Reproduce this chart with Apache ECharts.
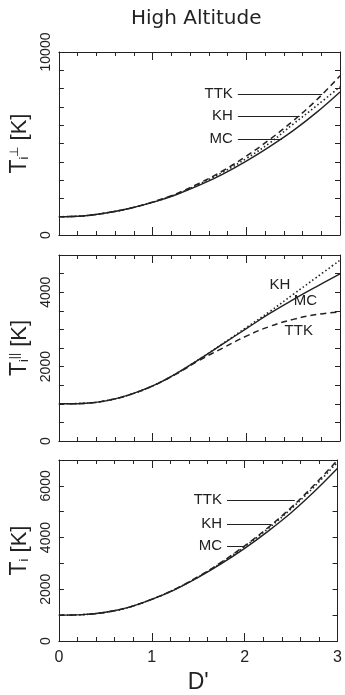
<!DOCTYPE html>
<html><head><meta charset="utf-8">
<script src="https://cdn.jsdelivr.net/npm/echarts/dist/echarts.min.js"></script>
<style>html,body{margin:0;padding:0;background:#fff}#c{width:345px;height:695px}</style>
</head><body><div id="c"></div>
<script>
// D' sample points
const dPrime = [0, 0.25, 0.5, 0.75, 1, 1.25, 1.5, 1.75, 2, 2.25, 2.5, 2.75, 3];

// Panel 1: T_i perpendicular [K]
const perpMC  = [1000, 1040, 1200, 1450, 1780, 2200, 2720, 3330, 4040, 4830, 5700, 6700, 7820];
const perpKH  = [1000, 1040, 1200, 1450, 1790, 2220, 2780, 3430, 4180, 5030, 6060, 7060, 8100];
const perpTTK = [1000, 1040, 1200, 1450, 1800, 2250, 2830, 3510, 4310, 5220, 6240, 7380, 8700];

// Panel 2: T_i parallel [K]
const parMC  = [1000, 1010, 1080, 1240, 1480, 1810, 2200, 2610, 3020, 3430, 3800, 4150, 4490];
const parKH  = [1000, 1010, 1080, 1240, 1480, 1810, 2200, 2620, 3050, 3480, 3940, 4400, 4860];
const parTTK = [1000, 1010, 1080, 1240, 1480, 1800, 2170, 2500, 2820, 3080, 3270, 3400, 3470];

// Panel 3: T_i [K]
const tMC  = [1000, 1020, 1110, 1300, 1610, 1990, 2460, 2990, 3580, 4240, 4960, 5780, 6680];
const tKH  = [1000, 1020, 1110, 1300, 1610, 2000, 2480, 3030, 3650, 4340, 5110, 5970, 6920];
const tTTK = [1000, 1020, 1110, 1300, 1615, 2005, 2490, 3050, 3680, 4380, 5160, 6040, 7000];

// y axis ranges / ticks / labelled values
const yMax = [10000, 5000, 7000];
const yStep = [1000, 500, 1000];
const yLabelEvery = [10000, 2000, 2000];
const xTickLabels = ['0', '1', '2', '3'];

const title = 'High Altitude';
const xName = "D'";

const seriesNames = ['MC', 'KH', 'TTK'];
const panelData = [
  [perpMC, perpKH, perpTTK],
  [parMC, parKH, parTTK],
  [tMC, tKH, tTTK]
];
// leader annotations: [name, lineStartD, T, lineEndD]
const leaders1 = [['TTK', 1.91, 7690, 2.81], ['KH', 1.91, 6500, 2.57], ['MC', 1.91, 5230, 2.38]];
const leaders3 = [['TTK', 1.81, 5440, 2.54], ['KH', 1.81, 4530, 2.29], ['MC', 1.81, 3680, 2.0]];
// panel 2 floating labels: [name, D', T]
const floats2 = [['KH', 2.36, 4210], ['MC', 2.63, 3760], ['TTK', 2.56, 2950]];

const grids = [
  {left: 58, right: 5, top: 52, height: 183},
  {left: 58, right: 5, top: 255, height: 186},
  {left: 58, right: 5, top: 460, height: 184}
];
const ink = '#222';
const font = 'Liberation Sans, Arial, sans-serif';

const yNames = [
  '{t|T}{s|i}{p|⊥}{k| [K]}',
  '{t|T}{s|i}{p|||}{k| [K]}',
  '{t|T}{s|i}{k| [K]}'
];
const nameRich = {
  t: {fontSize: 23, fontFamily: font, color: ink, verticalAlign: 'middle'},
  s: {fontSize: 13, fontFamily: font, color: ink, padding: [10, 0, 0, 0]},
  p: {fontSize: 12, fontFamily: font, color: ink, padding: [0, 0, 10, 0]},
  k: {fontSize: 22, fontFamily: font, color: ink}
};

const xAxes = [], yAxes = [], series = [];
grids.forEach((g, i) => {
  const last = i === 2;
  const xBase = {
    gridIndex: i, type: 'value', min: 0, max: 3, interval: 1,
    axisLine: {show: true, onZero: false, lineStyle: {color: ink, width: 1}},
    axisTick: {show: true, inside: true, length: 8, lineStyle: {color: ink}},
    minorTick: {show: true, splitNumber: 5, length: 4, lineStyle: {color: ink}},
    splitLine: {show: false}
  };
  xAxes.push(Object.assign({}, xBase, {
    position: 'bottom',
    axisLabel: {show: last, fontSize: 16, fontFamily: font, color: ink, margin: 9,
      formatter: v => xTickLabels[Math.round(v)]},
    name: last ? xName : '', nameLocation: 'middle', nameGap: 30,
    nameTextStyle: {fontSize: 23, fontFamily: font, color: ink}
  }));
  xAxes.push(Object.assign({}, xBase, {position: 'top', axisLabel: {show: false}}));
  const yBase = {
    gridIndex: i, type: 'value', min: 0, max: yMax[i], interval: yStep[i],
    axisLine: {show: true, onZero: false, lineStyle: {color: ink, width: 1}},
    axisTick: {show: true, inside: true, length: 5, lineStyle: {color: ink}},
    splitLine: {show: false}
  };
  yAxes.push(Object.assign({}, yBase, {
    position: 'left',
    axisLabel: {show: true, rotate: 90, fontSize: 14, fontFamily: font, color: ink, margin: 6,
      formatter: v => (v % yLabelEvery[i] === 0 ? String(v) : '')},
    name: yNames[i], nameLocation: 'middle', nameGap: 18,
    nameTextStyle: {rich: nameRich}
  }));
  yAxes.push(Object.assign({}, yBase, {position: 'right', axisLabel: {show: false}}));

  const styles = [
    {type: 'solid', width: 1.4},
    {type: [1.5, 2.5], width: 1.6},
    {type: [6, 4], width: 1.5}
  ];
  seriesNames.forEach((nm, k) => {
    series.push({
      name: nm + i, type: 'line', xAxisIndex: 2 * i, yAxisIndex: 2 * i,
      data: dPrime.map((d, j) => [d, panelData[i][k][j]]),
      smooth: 0.4, showSymbol: false, symbol: 'none', silent: true,
      lineStyle: Object.assign({color: ink}, styles[k]), z: 3
    });
  });
});

// leader lines as markLine on an empty helper series per panel
function leaderSeries(panel, leaders) {
  return {
    type: 'line', xAxisIndex: 2 * panel, yAxisIndex: 2 * panel, data: [], silent: true,
    markLine: {
      symbol: 'none', animation: false, silent: true,
      lineStyle: {color: ink, type: 'solid', width: 1},
      label: {show: true, position: 'start', distance: 5, fontSize: 15, fontFamily: font, color: ink,
        formatter: p => p.data.labelText},
      data: leaders.map(l => [
        {coord: [l[1], l[2]], labelText: l[0]},
        {coord: [l[3], l[2]]}
      ])
    }
  };
}
series.push(leaderSeries(0, leaders1));
series.push(leaderSeries(2, leaders3));
series.push({
  type: 'line', xAxisIndex: 2, yAxisIndex: 2, data: [], silent: true,
  markPoint: {
    symbol: 'circle', symbolSize: 0, animation: false, silent: true,
    label: {show: true, position: 'inside', fontSize: 15, fontFamily: font, color: ink,
      formatter: p => p.name},
    data: floats2.map(f => ({name: f[0], coord: [f[1], f[2]]}))
  }
});

const chart = echarts.init(document.getElementById('c'), null, {renderer: 'canvas'});
chart.setOption({
  animation: false,
  backgroundColor: '#fff',
  title: {text: title, left: 131, top: 9, padding: 0,
    textStyle: {fontSize: 20, fontWeight: 'normal', fontFamily: 'DejaVu Sans', color: ink}},
  grid: grids.map(g => Object.assign({show: false}, g)),
  xAxis: xAxes, yAxis: yAxes, series: series
});
</script></body></html>
